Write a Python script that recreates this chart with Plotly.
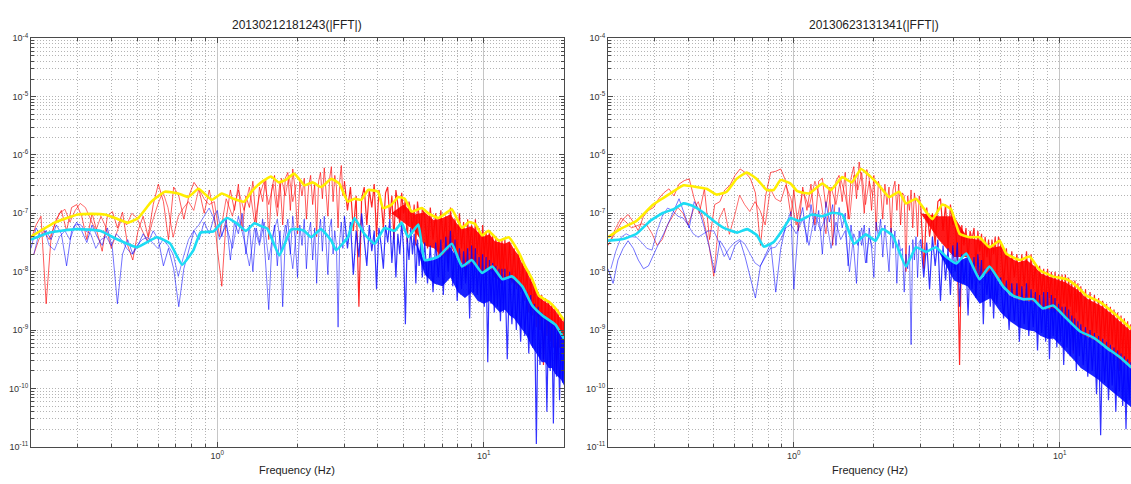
import math
import plotly.graph_objects as go

# ---------------- data (amplitudes given as log10 values) ----------------
FREQ_DENSE = [
    0.200, 0.209, 0.218, 0.228, 0.238, 0.249, 0.260, 0.272, 0.284, 0.297,
    0.310, 0.324, 0.339, 0.354, 0.370, 0.387, 0.404, 0.422, 0.441, 0.461,
    0.482, 0.504, 0.527, 0.550, 0.575, 0.601, 0.628, 0.656, 0.686, 0.717,
    0.749, 0.783, 0.818, 0.855, 0.893, 0.933, 0.975,
    1.00, 1.04, 1.08, 1.12, 1.16, 1.20, 1.24, 1.28, 1.32, 1.36,
    1.40, 1.44, 1.48, 1.52, 1.56, 1.60, 1.64, 1.68, 1.72, 1.76,
    1.80, 1.84, 1.88, 1.92, 1.96, 2.00, 2.04, 2.08, 2.12, 2.16,
    2.20, 2.24, 2.28, 2.32, 2.36, 2.40, 2.44, 2.48, 2.52, 2.56,
    2.60, 2.64, 2.68, 2.72, 2.76, 2.80, 2.84, 2.88, 2.92, 2.96,
    3.00, 3.08, 3.16, 3.24, 3.32, 3.40, 3.48, 3.56, 3.64, 3.72,
    3.80, 3.88, 3.96, 4.04, 4.12, 4.20, 4.28, 4.36, 4.44, 4.52,
    4.60, 4.68, 4.76, 4.84, 4.92, 5.00, 5.08, 5.16, 5.24, 5.32,
    5.40, 5.48, 5.56, 5.64, 5.72, 5.80, 5.88,
    6.00, 6.15, 6.30, 6.45, 6.60, 6.75, 6.90, 7.05, 7.20, 7.35,
    7.50, 7.65, 7.80, 7.95, 8.10, 8.25, 8.40, 8.55, 8.70, 8.85,
    9.00, 9.15, 9.30, 9.45, 9.60, 9.75, 9.90, 10.05, 10.20, 10.35,
    10.50, 10.65, 10.80, 10.95, 11.10, 11.25, 11.40, 11.55, 11.70, 11.85,
    12.00, 12.25, 12.50, 12.75, 13.00, 13.25, 13.50, 13.75, 14.00, 14.25,
    14.50, 14.75, 15.00, 15.25, 15.50, 15.75, 16.00, 16.25, 16.50, 16.75,
    17.00, 17.25, 17.50, 17.75, 18.00, 18.25, 18.50, 18.75, 19.00, 19.25,
    19.50, 19.75, 20.00,
]

FREQ_COARSE = [
    0.205, 0.214, 0.224, 0.234, 0.245, 0.256, 0.268, 0.280, 0.293, 0.306,
    0.320, 0.335, 0.350, 0.366, 0.383, 0.400, 0.418, 0.437, 0.457, 0.478,
    0.500, 0.523, 0.547, 0.572, 0.598, 0.625, 0.653, 0.683, 0.714, 0.746,
    0.780, 0.816, 0.853, 0.892, 0.932, 0.975, 1.02, 1.08, 1.14, 1.20,
    1.26, 1.32, 1.38, 1.44, 1.50, 1.56, 1.62, 1.68, 1.74, 1.80,
    1.86, 1.92, 1.98,
]

# ---- left chart (20130212181243) ----
L_RED_1 = [
    -7.45, -7.20, -7.05, -8.55, -7.40, -7.10, -6.95, -7.30, -6.90, -6.85,
    -7.05, -7.45, -7.00, -7.30, -7.65, -7.05, -6.97, -7.25, -6.98, -7.55,
    -7.80, -7.30, -7.05, -7.40, -6.85, -6.50, -6.80, -7.45, -6.55, -6.70,
    -7.10, -6.70, -6.47, -6.60, -7.00, -6.60, -7.05,
    -7.60, -8.25, -7.10, -6.60, -6.95, -6.50, -7.30, -6.70, -6.90, -6.45,
    -7.20, -6.55, -6.80, -6.40, -7.45, -6.60, -6.35, -6.90, -6.45, -7.20,
    -6.40, -6.30, -6.95, -6.24, -6.60, -7.35, -6.45, -6.70, -6.40, -7.10,
    -6.55, -6.35, -6.85, -6.50, -7.40, -6.45, -6.30, -6.75, -6.22, -6.60,
    -7.05, -6.40, -6.20, -6.80, -6.35, -6.55, -7.25, -6.45, -6.18, -6.70,
    -6.45, -6.95, -6.55, -7.30, -6.70, -8.60, -6.75, -6.55, -7.20, -6.60,
    -6.90, -6.50, -7.40, -6.60, -6.80, -7.25, -6.65, -6.55, -7.10, -6.70,
    -7.45, -6.60, -6.85, -7.20, -6.65, -7.00, -6.75, -7.50, -6.80, -6.95,
    -7.35, -6.85, -7.55, -6.80, -7.05, -7.45, -6.90,
    -7.05, -7.60, -6.90, -7.45, -7.00, -7.75, -6.95, -7.50, -7.05, -7.85,
    -6.90, -7.55, -7.10, -7.70, -7.00, -7.60, -7.15, -8.10, -7.10, -7.65,
    -7.20, -7.80, -7.10, -7.70, -7.25, -8.00, -7.20, -7.75, -7.30, -7.90,
    -7.30, -7.85, -7.35, -8.10, -7.40, -7.90, -7.45, -8.20, -7.45, -8.00,
    -7.45, -8.10, -7.50, -8.20, -7.60, -8.30, -7.65, -8.35, -7.85, -8.50,
    -7.95, -8.70, -8.10, -8.75, -8.20, -8.95, -8.35, -9.00, -8.40, -9.60,
    -8.45, -9.10, -8.50, -9.20, -8.55, -9.30, -8.60, -9.75, -8.65, -9.30,
    -8.75, -9.40, -8.80,
]
L_BLUE_1 = [
    -7.60, -7.25, -7.40, -7.30, -7.45, -7.20, -7.35, -7.90, -7.30, -7.15,
    -7.30, -7.50, -7.20, -7.40, -7.55, -7.25, -7.60, -8.55, -7.70, -7.45,
    -7.70, -7.55, -7.35, -7.50, -7.30, -7.45, -7.90, -7.60, -7.95, -8.60,
    -7.95, -7.60, -7.30, -7.45, -7.15, -7.35, -7.05,
    -6.95, -7.40, -7.10, -7.80, -7.15, -7.35, -7.00, -7.70, -7.20, -8.00,
    -7.25, -7.50, -7.10, -7.85, -8.65, -7.60, -7.20, -7.90, -7.30, -8.60,
    -7.40, -7.10, -7.70, -7.05, -7.45, -8.10, -7.20, -7.55, -7.10, -7.95,
    -7.35, -7.15, -7.80, -7.25, -8.20, -7.40, -7.10, -7.65, -7.05, -7.50,
    -8.05, -7.25, -7.10, -7.70, -7.30, -7.55, -8.95, -7.45, -7.15, -7.60,
    -7.05, -7.60, -7.15, -8.05, -7.30, -7.75, -7.00, -7.45, -7.90, -7.20,
    -7.65, -7.30, -8.30, -7.25, -7.55, -7.95, -7.20, -7.50, -7.10, -7.85,
    -7.30, -8.10, -7.35, -7.70, -7.15, -7.60, -8.90, -7.40, -7.80, -7.25,
    -7.70, -7.35, -8.20, -7.45, -7.90, -7.50, -8.10,
    -7.50, -8.20, -7.55, -8.35, -7.50, -8.10, -7.45, -8.40, -7.40, -8.00,
    -7.30, -8.25, -7.45, -8.50, -7.60, -8.30, -7.65, -8.20, -7.60, -8.80,
    -7.55, -8.35, -7.60, -8.40, -7.75, -8.50, -7.70, -8.60, -7.75, -9.55,
    -7.80, -8.55, -7.85, -8.70, -7.90, -8.60, -7.95, -8.85, -7.95, -8.70,
    -7.95, -9.50, -8.00, -8.90, -8.10, -9.00, -8.15, -9.20, -8.25, -9.10,
    -8.35, -9.40, -8.40, -9.30, -8.55, -10.95, -8.60, -9.60, -8.70, -9.50,
    -8.75, -10.40, -8.80, -9.70, -8.85, -10.60, -8.90, -9.80, -8.95, -10.20,
    -9.05, -9.90, -9.10,
]
L_RED_2 = [
    -7.70, -7.45, -7.30, -7.45, -7.20, -7.00, -6.93, -7.15, -6.95, -6.83,
    -6.90, -7.10, -7.30, -7.05, -7.25, -7.60, -7.35, -7.10, -7.20, -7.00,
    -7.08, -7.30, -7.47, -7.13, -6.85, -6.63, -6.90, -7.41, -7.05, -6.91,
    -6.80, -6.95, -6.58, -6.75, -6.85, -6.80, -7.40, -6.75, -7.05, -6.60,
    -6.95, -6.55, -7.15, -6.70, -6.45, -6.85, -6.50, -7.05, -6.40, -6.70,
    -6.35, -6.80, -6.50,
]
L_BLUE_2 = [
    -7.70, -7.35, -7.25, -7.55, -7.63, -7.40, -7.30, -7.45, -7.20, -7.19,
    -7.30, -7.35, -7.60, -7.45, -7.40, -7.55, -7.35, -7.45, -7.60, -7.70,
    -7.55, -7.45, -7.41, -7.50, -7.60, -7.45, -7.55, -7.70, -8.08, -7.75,
    -7.45, -7.30, -7.20, -7.05, -6.91, -7.10, -7.45, -7.20, -7.60, -7.05,
    -7.45, -7.90, -7.25, -7.55, -7.15, -7.80, -7.35, -7.10, -7.65, -7.20,
    -7.50, -7.95, -7.30,
]
# dense high-frequency cores (where the many spectral lines merge into solid colour)
L_RED_BAND_F = [4.5, 5.0, 5.5, 6.0, 6.5, 7.0, 7.5, 8.0, 8.5, 9.0, 9.5, 10.0, 10.5, 11.0, 11.5, 12.0,
                12.5, 13.0, 13.5, 14.0, 14.5, 15.0, 15.5, 16.0, 16.5, 17.0, 17.5, 18.0, 18.5, 19.0, 19.5, 20.0]
L_RED_BAND_HI = [-7.00, -6.85, -7.02, -6.98, -7.12, -7.08, -7.02, -7.20, -7.26, -7.22, -7.32, -7.40, -7.36, -7.48, -7.50, -7.52,
                 -7.48, -7.62, -7.72, -7.88, -7.98, -8.15, -8.24, -8.42, -8.47, -8.52, -8.55, -8.60, -8.66, -8.74, -8.80, -8.87]
L_RED_BAND_LO = [-7.00, -7.15, -7.30, -7.55, -7.60, -7.75, -7.55, -7.80, -7.90, -7.85, -7.95, -8.05, -7.95, -8.10, -8.15, -8.10,
                 -8.12, -8.20, -8.25, -8.35, -8.45, -8.60, -8.68, -8.78, -8.76, -8.85, -8.88, -8.90, -8.95, -9.05, -9.10, -9.20]
L_BLUE_BAND_F = [5.5, 6.0, 6.5, 7.0, 7.5, 8.0, 8.5, 9.0, 9.5, 10.0, 10.5, 11.0, 11.5, 12.0, 12.5,
                 13.0, 13.5, 14.0, 14.5, 15.0, 15.5, 16.0, 16.5, 17.0, 17.5, 18.0, 18.5, 19.0, 19.5, 20.0]
L_BLUE_BAND_HI = [-7.45, -7.82, -7.80, -7.72, -7.58, -7.80, -7.92, -7.84, -7.95, -8.02, -7.95, -7.98, -8.12, -8.13, -8.10,
                  -8.13, -8.22, -8.28, -8.42, -8.55, -8.64, -8.70, -8.76, -8.80, -8.84, -8.88, -8.93, -9.02, -9.08, -9.18]
L_BLUE_BAND_LO = [-7.45, -8.05, -8.20, -8.25, -8.10, -8.35, -8.45, -8.35, -8.50, -8.55, -8.50, -8.60, -8.70, -8.65, -8.75,
                  -8.80, -8.90, -9.00, -9.10, -9.25, -9.35, -9.45, -9.55, -9.55, -9.65, -9.65, -9.75, -9.80, -9.85, -9.95]
L_YELLOW_F = [
    0.20, 0.245, 0.30, 0.34, 0.378, 0.424, 0.463, 0.505, 0.566, 0.636,
    0.714, 0.779, 0.85, 0.954, 1.04, 1.15, 1.26, 1.35, 1.45, 1.59,
    1.70, 1.82, 1.94, 2.06, 2.12, 2.28, 2.45, 2.68, 2.87, 3.09,
    3.27, 3.47, 3.68, 4.01, 4.19, 4.51, 4.78, 5.05, 5.36, 5.85,
    6.2, 6.76, 7.2, 7.59, 8.28, 8.8, 9.27, 9.86, 10.4, 11.4,
    12.4, 13.6, 14.3, 15.2, 16.1, 17.6, 18.6, 20.0,
]
L_YELLOW = [
    -7.40, -7.16, -7.02, -7.01, -7.02, -7.10, -7.16, -7.08, -6.80, -6.63,
    -6.66, -6.72, -6.58, -6.77, -6.66, -6.75, -6.80, -6.62, -6.48, -6.37,
    -6.47, -6.42, -6.32, -6.45, -6.52, -6.47, -6.55, -6.41, -6.49, -6.80,
    -6.75, -6.77, -6.60, -6.63, -6.91, -6.85, -6.72, -6.75, -6.97, -6.91,
    -7.00, -7.08, -7.00, -6.93, -7.25, -7.15, -7.18, -7.38, -7.30, -7.47,
    -7.41, -7.69, -7.91, -8.13, -8.41, -8.52, -8.63, -8.83,
]
L_CYAN_F = [
    0.20, 0.235, 0.296, 0.363, 0.419, 0.499, 0.594, 0.666, 0.738, 0.814,
    0.865, 0.968, 1.04, 1.09, 1.19, 1.28, 1.38, 1.46, 1.54, 1.71,
    1.89, 2.0, 2.12, 2.25, 2.45, 2.68, 2.79, 3.09, 3.27, 3.56,
    3.89, 4.24, 4.63, 4.92, 5.2, 5.68, 6.0, 6.76, 7.59, 8.28,
    9.01, 9.86, 10.77, 11.75, 12.75, 13.95, 15.2, 16.6, 18.6, 20.0,
]
L_CYAN = [
    -7.45, -7.33, -7.27, -7.30, -7.44, -7.58, -7.41, -7.52, -7.88, -7.63,
    -7.33, -7.31, -7.15, -7.08, -7.18, -7.30, -7.17, -7.22, -7.26, -7.72,
    -7.28, -7.27, -7.30, -7.41, -7.27, -7.47, -7.63, -7.41, -7.08, -7.35,
    -7.52, -7.25, -7.30, -7.16, -7.41, -7.19, -7.80, -7.74, -7.52, -7.91,
    -7.80, -8.02, -7.91, -8.13, -8.08, -8.25, -8.58, -8.75, -8.91, -9.15,
]

# ---- right chart (20130623131341) ----
R_RED_1 = [
    -7.55, -7.40, -7.25, -7.10, -7.02, -7.15, -7.30, -7.05, -6.95, -6.90,
    -6.75, -6.65, -6.58, -6.70, -6.50, -6.44, -6.41, -6.75, -7.00, -6.58,
    -7.45, -6.85, -6.80, -6.60, -6.52, -6.35, -6.24, -6.30, -6.40, -6.65,
    -7.55, -6.70, -6.30, -6.28, -6.24, -6.45, -7.05,
    -6.60, -7.30, -6.55, -6.95, -6.50, -7.20, -6.45, -6.40, -6.90, -6.55,
    -7.55, -6.45, -6.35, -6.80, -6.30, -7.10, -6.40, -6.20, -6.75, -6.12,
    -6.45, -7.00, -6.25, -6.40, -6.95, -6.35, -7.30, -6.45, -6.60, -7.10,
    -6.50, -6.85, -6.55, -7.35, -6.60, -6.45, -6.95, -6.50, -7.20, -6.65,
    -6.70, -8.00, -6.70, -6.95, -6.60, -7.25, -6.65, -6.85, -7.40, -6.70,
    -6.85, -7.95, -6.90, -7.40, -7.00, -7.55, -6.80, -6.75, -7.30, -6.85,
    -7.60, -6.85, -7.20, -7.10, -7.70, -9.60, -7.20, -7.55, -7.25, -7.80,
    -7.30, -7.45, -7.25, -7.90, -7.30, -7.65, -7.35, -8.00, -7.40, -7.75,
    -7.45, -8.05, -7.45, -7.70, -7.40, -8.10, -7.40,
    -7.55, -8.20, -7.60, -8.35, -7.65, -8.10, -7.70, -8.40, -7.70, -8.25,
    -7.65, -8.45, -7.70, -8.30, -7.85, -8.55, -7.90, -8.40, -7.95, -8.60,
    -7.95, -8.45, -8.00, -8.70, -8.00, -8.50, -8.05, -8.75, -8.05, -8.55,
    -8.05, -8.80, -8.10, -8.60, -8.15, -9.40, -8.15, -8.70, -8.20, -8.85,
    -8.25, -8.95, -8.30, -9.00, -8.35, -9.10, -8.40, -9.05, -8.45, -9.20,
    -8.50, -9.15, -8.55, -9.30, -8.60, -9.25, -8.65, -9.40, -8.70, -9.70,
    -8.75, -9.45, -8.80, -9.55, -8.85, -9.60, -8.90, -9.65, -8.95, -9.70,
    -9.00, -9.75, -9.05,
]
R_BLUE_1 = [
    -7.95, -8.20, -7.80, -7.60, -7.47, -7.60, -7.80, -7.95, -7.90, -7.70,
    -7.52, -7.35, -7.13, -6.95, -6.75, -7.00, -7.25, -6.80, -6.95, -7.25,
    -7.60, -8.02, -7.47, -7.60, -7.80, -7.55, -7.47, -7.75, -8.13, -8.45,
    -7.90, -7.70, -7.52, -8.35, -7.60, -7.20, -6.97,
    -8.30, -7.20, -6.90, -7.50, -6.85, -7.30, -6.95, -7.70, -6.80, -7.15,
    -6.85, -7.55, -6.90, -7.25, -7.00, -7.90, -7.20, -7.60, -8.20, -7.30,
    -7.55, -7.20, -7.85, -7.25, -7.60, -8.10, -7.15, -7.40, -7.10, -7.75,
    -7.20, -7.55, -8.00, -7.25, -7.60, -7.30, -8.20, -7.45, -7.65, -7.60,
    -8.35, -7.70, -7.95, -7.55, -9.25, -7.45, -7.80, -7.40, -8.10, -7.50,
    -7.45, -8.10, -7.50, -8.30, -7.40, -7.90, -7.45, -8.50, -7.55, -8.15,
    -7.60, -8.40, -7.55, -8.00, -7.50, -8.60, -7.70, -8.20, -7.80, -8.75,
    -7.85, -8.30, -7.75, -8.45, -7.70, -8.20, -7.80, -8.90, -7.95, -8.40,
    -8.00, -8.60, -8.05, -8.80, -8.10, -8.55, -8.15,
    -8.10, -8.80, -8.15, -9.00, -8.20, -8.85, -8.20, -9.20, -8.25, -8.90,
    -8.20, -9.10, -8.30, -8.95, -8.35, -9.35, -8.40, -9.05, -8.35, -9.20,
    -8.35, -9.50, -8.40, -9.10, -8.45, -9.30, -8.55, -9.20, -8.60, -9.60,
    -8.60, -9.30, -8.65, -9.45, -8.75, -9.35, -8.80, -9.70, -8.85, -9.45,
    -8.90, -9.60, -8.95, -9.80, -9.00, -9.70, -9.05, -10.10, -9.10, -10.80,
    -9.15, -9.90, -9.20, -10.20, -9.25, -9.95, -9.30, -10.40, -9.35, -10.05,
    -9.40, -10.30, -9.45, -10.70, -9.50, -10.20, -9.55, -10.40, -9.60, -10.30,
    -9.65, -10.50, -9.70,
]
R_RED_2 = [
    -7.45, -7.25, -7.08, -7.15, -7.25, -7.22, -7.18, -7.20, -7.35, -7.55,
    -7.45, -7.20, -7.05, -6.90, -7.00, -7.20, -6.95, -6.80, -7.10, -7.50,
    -8.08, -7.10, -6.91, -7.36, -7.05, -6.69, -6.85, -6.97, -6.80, -6.95,
    -7.20, -6.58, -6.75, -6.80, -6.52, -6.75, -7.20, -6.60, -6.90, -6.45,
    -6.75, -7.35, -6.55, -6.85, -6.40, -6.70, -7.10, -6.35, -6.60, -6.30,
    -6.85, -6.45, -6.70,
]
R_BLUE_2 = [
    -7.95, -7.65, -7.41, -7.35, -7.40, -7.41, -7.50, -7.60, -7.63, -7.30,
    -7.05, -6.91, -6.95, -7.05, -7.08, -7.20, -7.35, -7.41, -7.35, -7.30,
    -7.30, -7.50, -7.74, -7.60, -7.50, -7.45, -7.52, -7.70, -7.85, -7.91,
    -7.75, -7.60, -7.58, -7.45, -7.25, -7.19, -7.35, -7.10, -7.55, -7.00,
    -7.30, -7.05, -7.60, -7.15, -7.45, -7.30, -8.00, -7.35, -7.55, -7.25,
    -7.85, -7.40, -7.60,
]
R_RED_BAND_F = [3.0, 3.5, 4.0, 4.5, 5.0, 5.5, 6.0, 6.5, 7.0, 7.5, 8.0, 8.5, 9.0, 9.5, 10.0, 10.5, 11.0, 11.5,
                12.0, 12.5, 13.0, 13.5, 14.0, 14.5, 15.0, 15.5, 16.0, 16.5, 17.0, 17.5, 18.0, 18.5, 19.0, 19.5, 20.0]
R_RED_BAND_HI = [-7.00, -7.05, -7.05, -7.42, -7.46, -7.60, -7.56, -7.76, -7.84, -7.80, -7.90, -8.03, -8.08, -8.12, -8.15, -8.18, -8.23, -8.29,
                 -8.36, -8.44, -8.49, -8.52, -8.56, -8.60, -8.65, -8.71, -8.76, -8.82, -8.87, -8.92, -8.97, -9.02, -9.07, -9.11, -9.15]
R_RED_BAND_LO = [-7.00, -7.45, -7.75, -7.75, -8.10, -8.00, -8.22, -8.40, -8.48, -8.50, -8.52, -8.62, -8.66, -8.64, -8.72, -8.82, -8.90, -9.00,
                 -9.07, -9.10, -9.14, -9.18, -9.22, -9.28, -9.33, -9.38, -9.42, -9.47, -9.51, -9.56, -9.61, -9.66, -9.70, -9.74, -9.78]
R_BLUE_BAND_F = [3.5, 4.0, 4.5, 5.0, 5.5, 6.0, 6.5, 7.0, 7.5, 8.0, 8.5, 9.0, 9.5, 10.0, 10.5, 11.0, 11.5,
                 12.0, 12.5, 13.0, 13.5, 14.0, 14.5, 15.0, 15.5, 16.0, 16.5, 17.0, 17.5, 18.0, 18.5, 19.0, 19.5, 20.0]
R_BLUE_BAND_HI = [-7.65, -7.86, -7.75, -8.15, -7.96, -8.23, -8.41, -8.48, -8.50, -8.51, -8.63, -8.65, -8.62, -8.71, -8.81, -8.90, -8.99,
                  -9.06, -9.10, -9.13, -9.17, -9.22, -9.28, -9.33, -9.38, -9.42, -9.47, -9.51, -9.56, -9.61, -9.66, -9.70, -9.74, -9.78]
R_BLUE_BAND_LO = [-7.65, -8.15, -8.25, -8.55, -8.45, -8.70, -8.85, -8.95, -9.00, -9.02, -9.10, -9.15, -9.15, -9.25, -9.35, -9.45, -9.55,
                  -9.65, -9.70, -9.75, -9.80, -9.85, -9.92, -9.98, -10.03, -10.08, -10.13, -10.18, -10.22, -10.27, -10.32, -10.36, -10.40, -10.44]
R_YELLOW_F = [
    0.20, 0.222, 0.256, 0.296, 0.343, 0.385, 0.431, 0.470, 0.512, 0.559,
    0.609, 0.665, 0.725, 0.791, 0.84, 0.891, 0.972, 1.03, 1.14, 1.28,
    1.38, 1.52, 1.65, 1.79, 1.92, 2.09, 2.28, 2.49, 2.64, 2.88,
    3.14, 3.32, 3.62, 3.90, 4.2, 4.57, 4.99, 5.44, 5.94, 6.29,
    7.07, 7.7, 8.4, 9.41, 10.6, 11.6, 12.6, 14.2, 15.8, 17.3,
    18.5, 20.0,
]
R_YELLOW = [
    -7.41, -7.27, -7.13, -6.85, -6.66, -6.52, -6.55, -6.58, -6.68, -6.63,
    -6.41, -6.30, -6.41, -6.60, -6.60, -6.43, -6.49, -6.62, -6.66, -6.49,
    -6.60, -6.38, -6.47, -6.24, -6.35, -6.52, -6.72, -6.63, -6.83, -6.75,
    -6.97, -7.10, -6.85, -6.93, -7.35, -7.41, -7.41, -7.58, -7.47, -7.69,
    -7.80, -7.74, -7.97, -8.08, -8.13, -8.25, -8.41, -8.52, -8.69, -8.85,
    -8.97, -9.10,
]
R_CYAN_F = [
    0.198, 0.228, 0.256, 0.288, 0.323, 0.353, 0.385, 0.42, 0.458, 0.50,
    0.545, 0.612, 0.667, 0.727, 0.771, 0.84, 0.917, 0.972, 1.044, 1.17,
    1.28, 1.395, 1.52, 1.685, 1.865, 2.03, 2.15, 2.35, 2.64, 2.88,
    3.14, 3.42, 3.73, 4.08, 4.45, 4.99, 5.44, 6.12, 6.67, 7.27,
    7.93, 8.65, 9.44, 10.6, 11.9, 13.4, 15.0, 16.9, 18.5, 20.0,
]
R_CYAN = [
    -7.47, -7.44, -7.35, -7.13, -6.99, -6.93, -6.83, -6.88, -6.99, -7.13,
    -7.25, -7.33, -7.27, -7.38, -7.57, -7.49, -7.25, -7.08, -7.13, -7.02,
    -7.05, -6.99, -7.02, -7.52, -7.36, -7.47, -7.27, -7.38, -7.91, -7.58,
    -7.66, -7.58, -7.74, -7.86, -7.69, -8.13, -7.91, -8.25, -8.41, -8.47,
    -8.47, -8.63, -8.58, -8.80, -9.02, -9.13, -9.30, -9.47, -9.63, -9.75,
]

TITLES = ["20130212181243(|FFT|)", "20130623131341(|FFT|)"]
X_TITLE = "Frequency (Hz)"
Y_DECADES = [-11, -10, -9, -8, -7, -6, -5, -4]
X_DECADES = [0, 1]

# ---------------- figure ----------------
W, H = 1131, 484
FONT = "Liberation Sans, Arial, Helvetica, sans-serif"
SPLIT = 87  # index of 3.00 Hz in FREQ_DENSE: the busier high-frequency part is drawn a bit bolder


def amp(logs):
    return [10.0 ** v for v in logs]


RED = "rgba(255,0,0,0.72)"
RED_HF = "rgba(255,0,0,0.85)"
BLUE = "rgba(0,0,255,0.62)"
BLUE_HF = "rgba(0,0,255,0.8)"
RED_FILL = "rgba(255,0,0,0.9)"
BLUE_FILL = "rgba(0,10,255,0.9)"
YELLOW = "#ffee00"
CYAN = "#1cdcf4"

fig = go.Figure()

panels = [
    ("x", "y", L_RED_1, L_RED_2, L_BLUE_1, L_BLUE_2,
     (L_RED_BAND_F, L_RED_BAND_HI, L_RED_BAND_LO), (L_BLUE_BAND_F, L_BLUE_BAND_HI, L_BLUE_BAND_LO),
     L_YELLOW_F, L_YELLOW, L_CYAN_F, L_CYAN),
    ("x2", "y2", R_RED_1, R_RED_2, R_BLUE_1, R_BLUE_2,
     (R_RED_BAND_F, R_RED_BAND_HI, R_RED_BAND_LO), (R_BLUE_BAND_F, R_BLUE_BAND_HI, R_BLUE_BAND_LO),
     R_YELLOW_F, R_YELLOW, R_CYAN_F, R_CYAN),
]


def band_trace(band, color, **common):
    f, hi, lo = band
    return go.Scatter(x=list(f) + list(f[::-1]), y=amp(hi) + amp(lo[::-1]),
                      fill="toself", fillcolor=color, line=dict(width=0), **common)


for xa, ya, r1, r2, b1, b2, rband, bband, yf, yv, cf, cv in panels:
    common = dict(xaxis=xa, yaxis=ya, mode="lines", hoverinfo="skip", showlegend=False)
    fig.add_trace(band_trace(rband, RED_FILL, **common))
    fig.add_trace(go.Scatter(x=FREQ_COARSE, y=amp(r2), line=dict(color=RED, width=0.8), **common))
    fig.add_trace(go.Scatter(x=FREQ_DENSE[:SPLIT + 1], y=amp(r1[:SPLIT + 1]), line=dict(color=RED, width=0.9), **common))
    fig.add_trace(go.Scatter(x=FREQ_DENSE[SPLIT:], y=amp(r1[SPLIT:]), line=dict(color=RED_HF, width=1.2), **common))
    fig.add_trace(band_trace(bband, BLUE_FILL, **common))
    fig.add_trace(go.Scatter(x=FREQ_COARSE, y=amp(b2), line=dict(color=BLUE, width=0.8), **common))
    fig.add_trace(go.Scatter(x=FREQ_DENSE[:SPLIT + 1], y=amp(b1[:SPLIT + 1]), line=dict(color=BLUE, width=0.9), **common))
    fig.add_trace(go.Scatter(x=FREQ_DENSE[SPLIT:], y=amp(b1[SPLIT:]), line=dict(color=BLUE_HF, width=1.2), **common))
    fig.add_trace(go.Scatter(x=yf, y=amp(yv), line=dict(color=YELLOW, width=2.6, shape="spline", smoothing=0.4), **common))
    fig.add_trace(go.Scatter(x=cf, y=amp(cv), line=dict(color=CYAN, width=2.6, shape="spline", smoothing=0.4), **common))

minor_y = [m * 10.0 ** d for d in range(-11, -4) for m in range(2, 10)]
minor_x = [m * 10.0 ** d for d in (-1, 0, 1) for m in range(2, 10) if 0.2 <= m * 10.0 ** d <= 20]

GRID = "#b4b4b4"
AXIS = "#4a4a4a"
DASH = "1px,2px"


def y_axis(domain, mirror):
    return dict(
        type="log", domain=domain, range=[-11, -4],
        tickmode="array", tickvals=[10.0 ** d for d in Y_DECADES],
        ticktext=["10<sup>%d</sup>" % d for d in Y_DECADES],
        showgrid=True, gridcolor=GRID, griddash=DASH, gridwidth=1,
        ticks="inside", ticklen=5, tickcolor=AXIS,
        minor=dict(tickmode="array", tickvals=minor_y, showgrid=True, gridcolor=GRID,
                   griddash=DASH, gridwidth=1, ticks="inside", ticklen=3, tickcolor=AXIS),
        showline=True, linecolor=AXIS, linewidth=1, mirror=mirror,
        zeroline=False, tickfont=dict(family=FONT, size=9, color="#333"),
    )


def x_axis(domain, rng, anchor):
    return dict(
        type="log", domain=domain, range=rng, anchor=anchor,
        tickmode="array", tickvals=[10.0 ** d for d in X_DECADES],
        ticktext=["10<sup>%d</sup>" % d for d in X_DECADES],
        showgrid=True, gridcolor="#c6c6c6", gridwidth=1,
        ticks="inside", ticklen=5, tickcolor=AXIS,
        minor=dict(tickmode="array", tickvals=minor_x, showgrid=True, gridcolor=GRID,
                   griddash=DASH, gridwidth=1, ticks="inside", ticklen=3, tickcolor=AXIS),
        showline=True, linecolor=AXIS, linewidth=1, mirror="ticks",
        zeroline=False, tickfont=dict(family=FONT, size=9, color="#333"),
    )


y_dom = [1 - 451 / H, 1 - 32 / H]
fig.update_layout(
    width=W, height=H, autosize=False,
    margin=dict(l=0, r=0, t=0, b=0),
    paper_bgcolor="white", plot_bgcolor="white",
    font=dict(family=FONT, color="#222"),
    xaxis=x_axis([31 / W, 564 / W], [math.log10(0.2), math.log10(20)], "y"),
    yaxis=y_axis(y_dom, "ticks"),
    xaxis2=x_axis([608 / W, 1.0], [math.log10(0.2), 1.268], "y2"),
    yaxis2=dict(y_axis(y_dom, False), anchor="x2"),
)
fig.layout.yaxis.anchor = "x"

for cx, title in ((297, TITLES[0]), (874, TITLES[1])):
    fig.add_annotation(x=cx / W, y=1 - 18 / H, xref="paper", yref="paper", text=title,
                       showarrow=False, font=dict(family=FONT, size=12, color="#222"),
                       xanchor="center", yanchor="middle")
for cx in (297, 870):
    fig.add_annotation(x=cx / W, y=1 - 475 / H, xref="paper", yref="paper", text=X_TITLE,
                       showarrow=False, font=dict(family=FONT, size=11, color="#222"),
                       xanchor="center", yanchor="middle")

fig.write_html("out.html")
